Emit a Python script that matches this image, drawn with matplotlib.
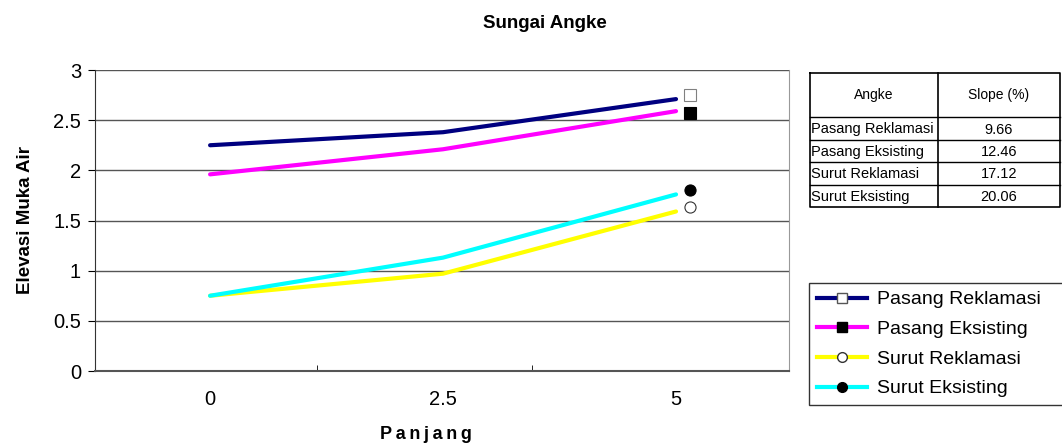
import matplotlib.pyplot as plt
from matplotlib.lines import Line2D

# --- data ---
categories = ['0', '2.5', '5']
pasang_reklamasi = [2.25, 2.38, 2.71]
pasang_eksisting = [1.96, 2.21, 2.59]
surut_reklamasi = [0.75, 0.97, 1.59]
surut_eksisting = [0.75, 1.13, 1.76]

# end markers (separate series plotted just right of the last category)
marker_x = 2.06
marker_vals = [2.75, 2.57, 1.63, 1.80]

series_names = ['Pasang Reklamasi', 'Pasang Eksisting', 'Surut Reklamasi', 'Surut Eksisting']
table_vals = ['9.66', '12.46', '17.12', '20.06']

plt.rcParams['font.family'] = ['Liberation Sans', 'DejaVu Sans']

fig = plt.figure(figsize=(10.62, 4.48), dpi=100)
ax = fig.add_axes([95 / 1062, 1 - 371 / 448, 694 / 1062, 301 / 448])

x = list(range(len(categories)))
ax.plot(x, pasang_reklamasi, color='#000080', lw=3, solid_capstyle='round', zorder=3)
ax.plot(x, pasang_eksisting, color='#ff00ff', lw=3, solid_capstyle='round', zorder=3)
ax.plot(x, surut_reklamasi, color='#ffff00', lw=3, solid_capstyle='round', zorder=3)
ax.plot(x, surut_eksisting, color='#00ffff', lw=3, solid_capstyle='round', zorder=3)

mk = [('s', 'white', '#808080'), ('s', 'black', 'black'), ('o', 'white', '#333333'), ('o', 'black', 'black')]
for v, (m, fc, ec) in zip(marker_vals, mk):
    ax.plot([marker_x], [v], marker=m, ms=8, mfc=fc, mec=ec, mew=0.8, ls='none', zorder=4)

ax.set_xlim(-0.494, 2.485)
ax.set_ylim(0, 3)
ax.set_yticks([0, 0.5, 1, 1.5, 2, 2.5, 3])
ax.set_yticklabels(['0', '0.5', '1', '1.5', '2', '2.5', '3'], fontsize=14.5)
ax.set_xticks(x)
ax.set_xticklabels(categories, fontsize=14.5)
ax.tick_params(axis='x', length=0, pad=14)
ax.set_xticks([0.46, 1.38], minor=True)
ax.tick_params(axis='x', which='minor', length=4, direction='in')
ax.tick_params(axis='y', length=5, direction='out', pad=5)
ax.grid(axis='y', color='#555555', lw=1)
ax.set_axisbelow(True)
ax.spines['top'].set_visible(False)
ax.spines['left'].set_color('#333333')
ax.spines['bottom'].set_color('#555555')
ax.spines['bottom'].set_linewidth(1.5)
ax.spines['right'].set_color('#999999')

ax.set_xlabel('P\u2009a\u2009n\u2009j\u2009a\u2009n\u2009g', fontsize=13, fontweight='bold')
ax.xaxis.set_label_coords((426 - 95) / 694, -(426 - 371) / 301)
ax.set_ylabel('Elevasi Muka Air', fontsize=13.5, fontweight='bold', labelpad=14)
fig.text(545 / 1062, 1 - 23 / 448, 'Sungai Angke', ha='center', va='center',
         fontsize=13.5, fontweight='bold')

# --- slope table ---
tx0, tx1, tcol = 810, 1060, 938
ty = [73, 117, 140, 162, 185, 207]
tab = fig.add_axes([0, 0, 1, 1])
tab.set_xlim(0, 1062)
tab.set_ylim(448, 0)
tab.axis('off')
tab.plot([tx0, tx1, tx1, tx0, tx0], [ty[0], ty[0], ty[-1], ty[-1], ty[0]], color='black', lw=1.2)
tab.plot([tcol, tcol], [ty[0], ty[-1]], color='black', lw=1.2)
for yy in ty[1:-1]:
    tab.plot([tx0, tx1], [yy, yy], color='black', lw=1)
tab.text((tx0 + tcol) / 2, (ty[0] + ty[1]) / 2, 'Angke', ha='center', va='center', fontsize=10)
tab.text((tcol + tx1) / 2, (ty[0] + ty[1]) / 2, 'Slope (%)', ha='center', va='center', fontsize=10)
for i, (name, val) in enumerate(zip(series_names, table_vals)):
    yc = (ty[i + 1] + ty[i + 2]) / 2 + 1
    tab.text(tx0 + 1, yc, name, ha='left', va='center', fontsize=10.5)
    tab.text((tcol + tx1) / 2, yc, val, ha='center', va='center', fontsize=10.5)

# --- legend ---
handles = [
    Line2D([], [], color='#000080', lw=3, marker='s', ms=7, mfc='white', mec='#555555'),
    Line2D([], [], color='#ff00ff', lw=3, marker='s', ms=7, mfc='black', mec='black'),
    Line2D([], [], color='#ffff00', lw=3, marker='o', ms=7, mfc='white', mec='#333333'),
    Line2D([], [], color='#00ffff', lw=3, marker='o', ms=7, mfc='black', mec='black'),
]
leg = fig.legend(handles, series_names, loc='upper left',
                 bbox_to_anchor=(809 / 1062, 1 - 408 / 448, 262 / 1062, 125 / 448), mode='expand',
                 fontsize=14, frameon=True, fancybox=False, handlelength=2.6, borderpad=0.4,
                 labelspacing=0.62, handletextpad=0.5, borderaxespad=0)
leg.get_frame().set_edgecolor('black')
leg.get_frame().set_linewidth(1)

fig.savefig('out.png', dpi=100)
